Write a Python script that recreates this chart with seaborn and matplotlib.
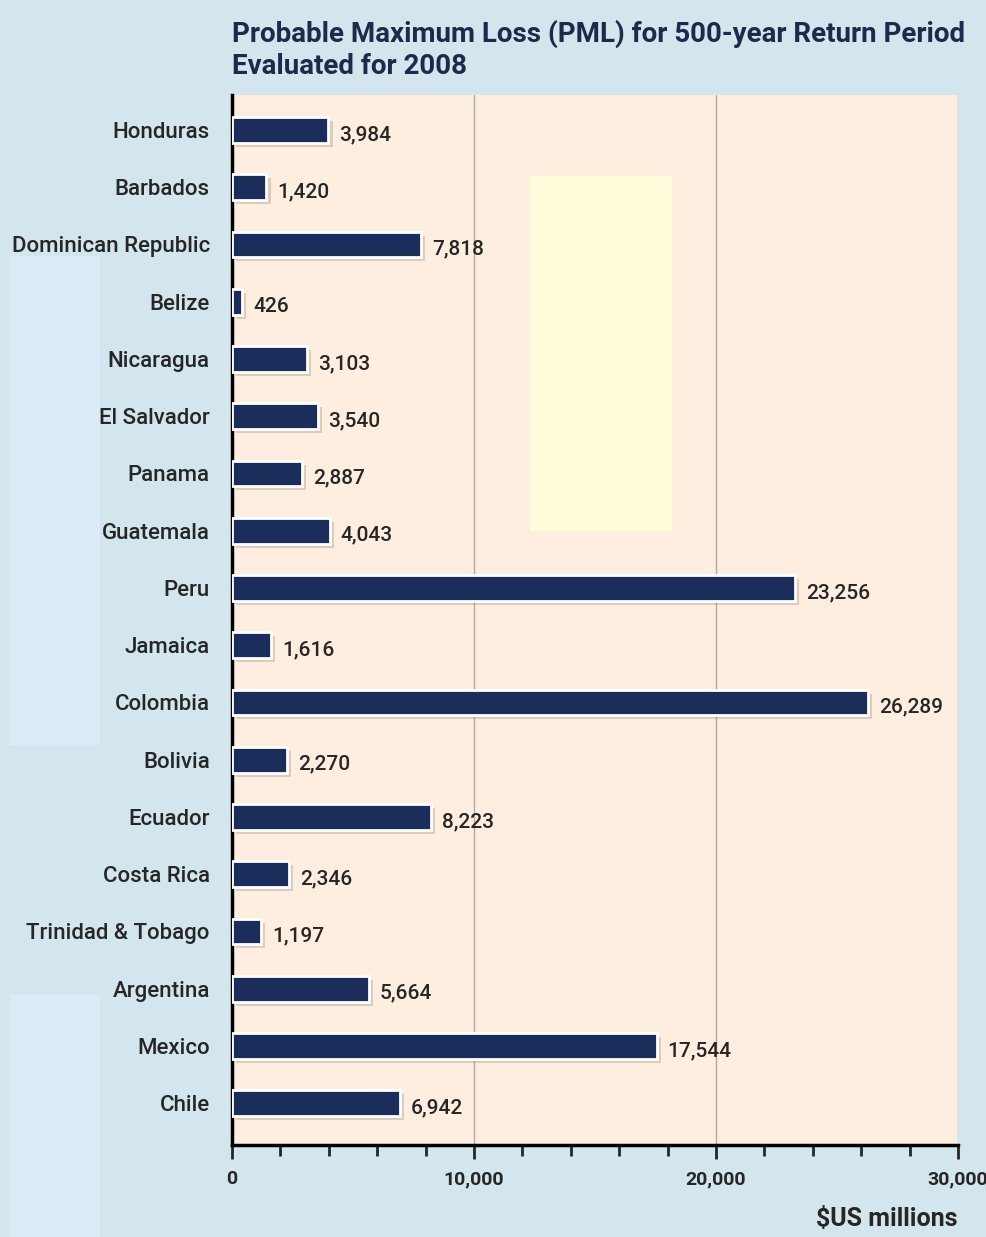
import numpy as np
import pandas as pd
import seaborn as sns
import matplotlib.pyplot as plt
import matplotlib.patheffects as pe
from matplotlib.patches import Rectangle
from matplotlib.ticker import MultipleLocator, FuncFormatter

countries = ['Honduras', 'Barbados', 'Dominican Republic', 'Belize', 'Nicaragua',
             'El Salvador', 'Panama', 'Guatemala', 'Peru', 'Jamaica', 'Colombia',
             'Bolivia', 'Ecuador', 'Costa Rica', 'Trinidad & Tobago', 'Argentina',
             'Mexico', 'Chile']
pml = [3984, 1420, 7818, 426, 3103, 3540, 2887, 4043, 23256, 1616, 26289,
       2270, 8223, 2346, 1197, 5664, 17544, 6942]

df = pd.DataFrame({'Country': countries, 'PML': pml})

sns.set_style('white')
plt.rcParams['font.family'] = ['Roboto', 'DejaVu Sans']

bg = '#d3e6ee'
panel = '#fdeee0'
navy = '#1b2d5b'
txt = '#262626'

fig = plt.figure(figsize=(9.86, 12.37), dpi=100, facecolor=bg)

# lighter strips on the left of the scan
for y0, y1 in [(256, 745), (995, 1237)]:
    fig.patches.append(Rectangle((10/986, 1 - y1/1237), 90/986, (y1 - y0)/1237,
                                 transform=fig.transFigure, facecolor='#dcebf8',
                                 edgecolor='none', zorder=-5))

ax = fig.add_axes([232/986, 1 - 1145/1237, (958-232)/986, (1145-95)/1237])
ax.set_facecolor(panel)

sns.barplot(data=df, y='Country', x='PML', color=navy, width=0.45,
            saturation=1, orient='h', ax=ax, zorder=3)

for bar in ax.patches:
    bar.set_edgecolor('white')
    bar.set_linewidth(2)
    bar.set_path_effects([pe.SimplePatchShadow(offset=(3, -3), shadow_rgbFace='#7a6a5a', alpha=0.25),
                          pe.Normal()])

# pale patch seen in the middle of the panel
ax.add_patch(Rectangle((12300, 0.8), 5900, 6.2, facecolor='#fffcdc', edgecolor='none', zorder=1))

for i, v in enumerate(pml):
    ax.text(v + 450, i + 0.08, f'{v:,}', va='center', ha='left', fontsize=15,
            fontweight='medium', color=txt, zorder=4)

ax.set_xlim(0, 30000)
ax.set_ylim(17.73, -0.61)
ax.xaxis.set_major_locator(MultipleLocator(10000))
ax.xaxis.set_minor_locator(MultipleLocator(2000))
ax.xaxis.set_major_formatter(FuncFormatter(lambda x, p: f'{int(x):,}'))
ax.grid(axis='x', which='major', color='#b0aaa4', linewidth=1, zorder=0)
ax.set_axisbelow(True)

for s in ['top', 'right']:
    ax.spines[s].set_visible(False)
for s in ['left', 'bottom']:
    ax.spines[s].set_color('black')
    ax.spines[s].set_linewidth(2.5)

ax.tick_params(axis='x', which='major', length=10, width=2, direction='out', bottom=True,
               labelsize=14, labelcolor=txt, pad=8)
ax.tick_params(axis='x', which='minor', length=8, width=2, direction='out', bottom=True)
ax.tick_params(axis='y', length=0, labelsize=16, labelcolor=txt, pad=16)
for lab in ax.get_xticklabels():
    lab.set_fontweight('bold')
for lab in ax.get_yticklabels():
    lab.set_fontweight('medium')

ax.set_ylabel('')
ax.set_xlabel('\\$US millions', fontsize=18, fontweight='bold', color=txt, loc='right', labelpad=14)

fig.text(232/986, 1 - 50/1237, 'Probable Maximum Loss (PML) for 500-year Return Period\nEvaluated for 2008',
         ha='left', va='center', fontsize=20, fontweight='bold', color='#1f2a4a', linespacing=1.25)

fig.savefig('out.png', dpi=100, facecolor=bg)
